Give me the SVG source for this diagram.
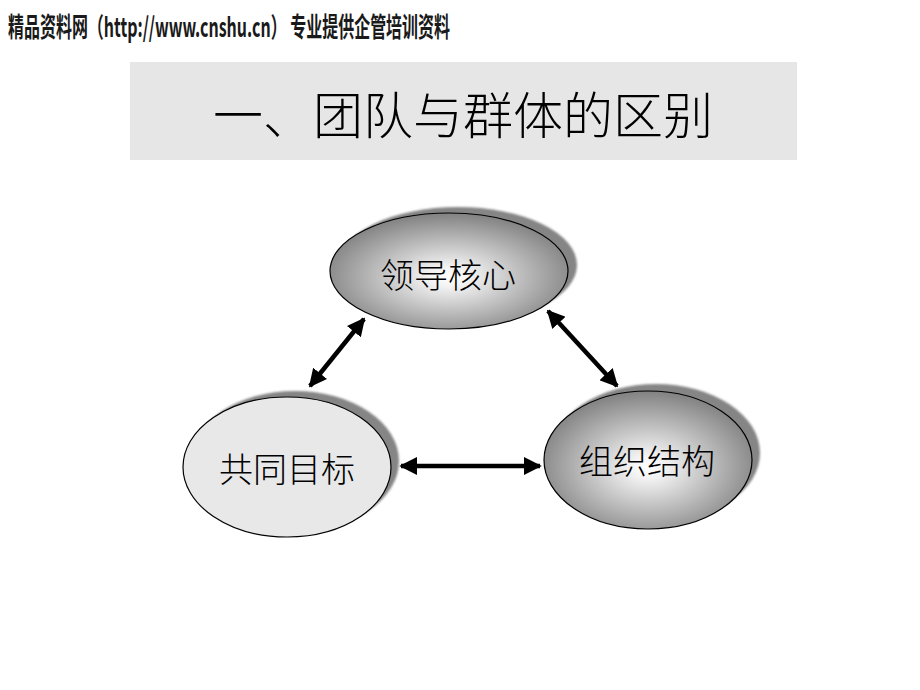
<svg xmlns="http://www.w3.org/2000/svg" width="920" height="690" viewBox="0 0 920 690">
<defs>
  <radialGradient id="g" cx="50%" cy="55%" r="58%">
    <stop offset="0" stop-color="#ffffff"/>
    <stop offset="0.15" stop-color="#f2f2f2"/>
    <stop offset="1" stop-color="#7a7a7a"/>
  </radialGradient>
  <filter id="blur" x="-10%" y="-10%" width="120%" height="120%"><feGaussianBlur stdDeviation="1.2"/></filter>
  <marker id="ah" viewBox="0 0 10 10" refX="9" refY="5" markerWidth="4" markerHeight="4" orient="auto-start-reverse" markerUnits="strokeWidth">
    <path d="M0,0 L10,5 L0,10 z" fill="#000"/>
  </marker>
  <style>
    .lbl{font-family:"Noto Sans CJK SC",sans-serif;font-size:34px;font-weight:300;fill:#000;text-anchor:middle}
    .shadow{fill:#858585;filter:url(#blur)}
    .node{stroke:#000;stroke-width:1.2}
    .conn{stroke:#000;stroke-width:4.5;fill:none;marker-start:url(#ah);marker-end:url(#ah)}
  </style>
</defs>
<rect width="920" height="690" fill="#fff"/>
<g id="header">
  <text x="8" y="37" font-family="'Noto Sans CJK SC',sans-serif" font-size="27" font-weight="bold" fill="#1a1a1a" textLength="442" lengthAdjust="spacingAndGlyphs">精品资料网（http://www.cnshu.cn） 专业提供企管培训资料</text>
</g>
<g id="title">
  <rect x="130" y="62" width="667" height="98" fill="#e6e6e6"/>
  <text x="463" y="134" text-anchor="middle" font-family="'Noto Sans CJK SC',sans-serif" font-weight="300" font-size="50" fill="#000">一、团队与群体的区别</text>
</g>
<g id="connectors">
  <line class="conn" x1="364" y1="319" x2="310" y2="386"/>
  <line class="conn" x1="548" y1="311" x2="617" y2="386"/>
  <line class="conn" x1="401" y1="466" x2="540" y2="466"/>
</g>
<g id="node-lead">
  <ellipse class="shadow" cx="458" cy="265" rx="119" ry="58"/>
  <ellipse class="node" cx="449" cy="271" rx="119" ry="58" fill="url(#g)"/>
  <text class="lbl" x="448" y="288">领导核心</text>
</g>
<g id="node-goal">
  <ellipse class="shadow" cx="295" cy="461" rx="104" ry="70"/>
  <ellipse class="node" cx="287" cy="467" rx="104" ry="70" fill="#e8e8e8"/>
  <text class="lbl" x="287" y="482">共同目标</text>
</g>
<g id="node-org">
  <ellipse class="shadow" cx="656" cy="453" rx="104" ry="69"/>
  <ellipse class="node" cx="648" cy="460" rx="104" ry="69" fill="url(#g)"/>
  <text class="lbl" x="647" y="474">组织结构</text>
</g>
</svg>
